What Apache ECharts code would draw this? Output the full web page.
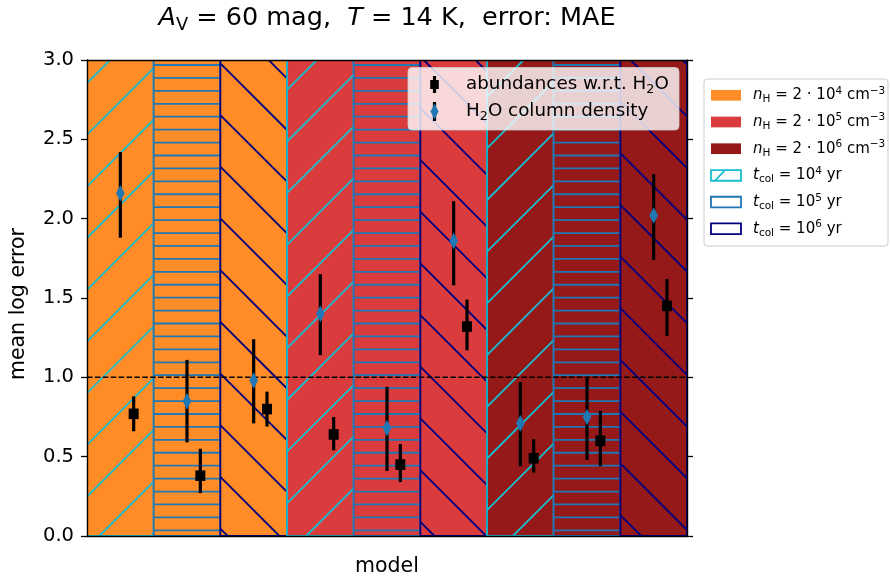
<!DOCTYPE html>
<html>
<head>
<meta charset="utf-8">
<script src="https://cdn.jsdelivr.net/npm/echarts@6/dist/echarts.min.js"></script>
<style>
  html, body { margin: 0; padding: 0; background: #ffffff; }
  #chart { width: 890px; height: 585px; }
</style>
</head>
<body>
<div id="chart"></div>
<script>
// Nine models: gas density (fill colour) x collapse time (hatch style)
const modelDensity = [0, 0, 0, 1, 1, 1, 2, 2, 2];
const modelTime    = [0, 1, 2, 0, 1, 2, 0, 1, 2];

const densityExponents = ['4', '5', '6'];
const timeExponents    = ['4', '5', '6'];

// H2O column density: mean log error with its spread
const h2oColumn   = [2.16, 0.85, 0.98, 1.40, 0.68, 1.86, 0.71, 0.75, 2.02];
const h2oColumnLo = [1.88, 0.59, 0.71, 1.14, 0.41, 1.58, 0.44, 0.48, 1.74];
const h2oColumnHi = [2.42, 1.11, 1.24, 1.65, 0.94, 2.11, 0.97, 1.00, 2.28];

// abundances relative to H2O
const abundance   = [0.77, 0.38, 0.80, 0.64, 0.45, 1.32, 0.49, 0.60, 1.45];
const abundanceLo = [0.66, 0.27, 0.69, 0.54, 0.34, 1.17, 0.40, 0.44, 1.26];
const abundanceHi = [0.88, 0.55, 0.91, 0.75, 0.58, 1.49, 0.61, 0.79, 1.62];

const yTicks = [0.0, 0.5, 1.0, 1.5, 2.0, 2.5, 3.0];
const referenceLevel = 1.0;

// styling
const densityFill = ['rgba(255,127,14,0.9)', 'rgba(214,39,40,0.9)', 'rgba(139,0,0,0.9)'];
const timeColors  = ['#17becf', '#1f77b4', '#000080'];
const hatchKinds  = ['/', '-', '\\'];
const HATCH_STEP = 51.7;   // diagonal hatch period (px)
const HLINE_STEP = HATCH_STEP / 4;
const HATCH_W = 1.8;
const FONT = 'DejaVu Sans';

const yMin = yTicks[0], yMax = yTicks[yTicks.length - 1];
const nModels = modelDensity.length;

// clip an infinite hatch family to a rectangle and return segments
function hatchSegments(kind, x0, y0, x1, y1) {
  const segs = [];
  if (kind === '-') {
    let y = 65 + Math.ceil((y0 - 65) / HLINE_STEP) * HLINE_STEP;
    for (; y <= y1; y += HLINE_STEP) segs.push([x0, y, x1, y]);
  } else if (kind === '/') {
    // lines x + y = c
    const base = 170;
    let c = base + Math.floor((x0 + y0 - base) / HATCH_STEP) * HATCH_STEP;
    for (; c <= x1 + y1 + HATCH_STEP; c += HATCH_STEP) {
      const xa = Math.max(x0, c - y1), xb = Math.min(x1, c - y0);
      if (xb > xa) segs.push([xa, c - xa, xb, c - xb]);
    }
  } else {
    // lines y - x = c
    const base = -157;
    let c = base + Math.floor((y0 - x1 - base) / HATCH_STEP) * HATCH_STEP;
    for (; c <= y1 - x0 + HATCH_STEP; c += HATCH_STEP) {
      const xa = Math.max(x0, y0 - c), xb = Math.min(x1, y1 - c);
      if (xb > xa) segs.push([xa, xa + c, xb, xb + c]);
    }
  }
  return segs;
}

function renderModelBar(params, api) {
  const i = api.value(0);
  const d = api.value(1);
  const t = api.value(2);
  const p0 = api.coord([i, yMax]);
  const p1 = api.coord([i + 1, yMin]);
  const x0 = p0[0], y0 = p0[1], x1 = p1[0], y1 = p1[1];
  const color = timeColors[t];
  const children = [{
    type: 'rect',
    shape: { x: x0, y: y0, width: x1 - x0, height: y1 - y0 },
    style: { fill: densityFill[d], stroke: null }
  }];
  hatchSegments(hatchKinds[t], x0, y0, x1, y1).forEach(s => {
    children.push({
      type: 'line',
      shape: { x1: s[0], y1: s[1], x2: s[2], y2: s[3] },
      style: { stroke: color, lineWidth: HATCH_W }
    });
  });
  children.push({
    type: 'rect',
    shape: { x: x0, y: y0, width: x1 - x0, height: y1 - y0 },
    style: { fill: null, stroke: color, lineWidth: 1.8 }
  });
  return { type: 'group', children: children };
}

// vertical error bar plus its central marker
function makeErrorRenderer(markerKind) {
  return function (params, api) {
    const x = api.value(0);
    const c = api.coord([x, api.value(1)]);
    const a = api.coord([x, api.value(2)]);
    const b = api.coord([x, api.value(3)]);
    const marker = markerKind === 'square'
      ? { type: 'rect', shape: { x: c[0] - 5, y: c[1] - 5.3, width: 10, height: 10.6 }, style: { fill: '#000' } }
      : { type: 'polygon', shape: { points: [[c[0], c[1] - 8.3], [c[0] + 4.3, c[1]], [c[0], c[1] + 8.3], [c[0] - 4.3, c[1]]] }, style: { fill: '#1f77b4' } };
    return {
      type: 'group',
      children: [
        { type: 'line', shape: { x1: a[0], y1: a[1], x2: b[0], y2: b[1] }, style: { stroke: '#000', lineWidth: 3.2 } },
        marker
      ]
    };
  };
}

const barData = modelDensity.map((d, i) => [i, d, modelTime[i]]);
const DIAMOND_X = 0.5, SQUARE_X = 0.7;
const h2oData = h2oColumn.map((v, i) => [i + DIAMOND_X, v, h2oColumnLo[i], h2oColumnHi[i]]);
const abData  = abundance.map((v, i) => [i + SQUARE_X, v, abundanceLo[i], abundanceHi[i]]);

// rich-text styles
const richBase = (size) => ({
  n:   { fontFamily: FONT, fontSize: size, color: '#000', lineHeight: size * 1.3 },
  i:   { fontFamily: FONT, fontStyle: 'italic', fontSize: size, color: '#000', lineHeight: size * 1.3 },
  sub: { fontFamily: FONT, fontSize: size * 0.7, color: '#000', lineHeight: size * 0.95, verticalAlign: 'bottom' },
  sup: { fontFamily: FONT, fontSize: size * 0.7, color: '#000', lineHeight: size * 1.0, verticalAlign: 'top' }
});

const titleText = '{i|A}{sub|V}{n| = 60 mag,  }{i|T}{n| = 14 K,  error: MAE}';

// legend entries
const LG = { x: 704, y: 79, w: 184, h: 167, patchX: 711, patchW: 30, patchH: 10.7, textX: 753, row0: 95.3, rowStep: 26.7 };
const LG_FONT = 15;
const legendGraphics = [];
legendGraphics.push({
  type: 'rect', shape: { x: LG.x, y: LG.y, width: LG.w, height: LG.h, r: 3 },
  style: { fill: 'rgba(255,255,255,0.8)', stroke: '#cccccc', lineWidth: 1 }, z: 100
});
densityExponents.forEach((e, k) => {
  const cy = LG.row0 + k * LG.rowStep;
  legendGraphics.push({
    type: 'rect', shape: { x: LG.patchX, y: cy - LG.patchH / 2, width: LG.patchW, height: LG.patchH },
    style: { fill: densityFill[k] }, z: 101
  });
  legendGraphics.push({
    type: 'text', x: LG.textX, y: cy, z: 101,
    style: {
      text: '{i|n}{sub|H}{n| = 2 \u00b7 10}{sup|' + e + '}{n| cm}{sup|\u22123}',
      rich: richBase(LG_FONT), verticalAlign: 'middle', align: 'left'
    }
  });
});
timeExponents.forEach((e, k) => {
  const cy = LG.row0 + (k + 3) * LG.rowStep;
  const px = LG.patchX, py = cy - LG.patchH / 2;
  legendGraphics.push({
    type: 'rect', shape: { x: px, y: py, width: LG.patchW, height: LG.patchH },
    style: { fill: 'rgba(255,255,255,0)', stroke: timeColors[k], lineWidth: 1.8 }, z: 101
  });
  if (hatchKinds[k] === '/') {
    legendGraphics.push({
      type: 'line', shape: { x1: px + 4, y1: py + LG.patchH, x2: px + 13.5, y2: py + 0.5 },
      style: { stroke: timeColors[k], lineWidth: HATCH_W }, z: 101
    });
  }
  legendGraphics.push({
    type: 'text', x: LG.textX, y: cy, z: 101,
    style: {
      text: '{i|t}{sub|col}{n| = 10}{sup|' + e + '}{n| yr}',
      rich: richBase(LG_FONT), verticalAlign: 'middle', align: 'left'
    }
  });
});

// in-axes legend for the two error-bar series
const IL = { x: 408, y: 67.5, w: 271, h: 62.5, markX: 434.5, textX: 466, row1: 84.5, row2: 111.5 };
const IL_FONT = 18.3;
legendGraphics.push({
  type: 'rect', shape: { x: IL.x, y: IL.y, width: IL.w, height: IL.h, r: 4 },
  style: { fill: 'rgba(255,255,255,0.8)', stroke: 'rgba(204,204,204,0.8)', lineWidth: 1 }, z: 100
});
legendGraphics.push({
  type: 'line', shape: { x1: IL.markX, y1: IL.row1 - 8.5, x2: IL.markX, y2: IL.row1 + 8.5 },
  style: { stroke: '#000', lineWidth: 3.2 }, z: 101
});
legendGraphics.push({
  type: 'rect', shape: { x: IL.markX - 4.3, y: IL.row1 - 4.5, width: 8.6, height: 9 },
  style: { fill: '#000' }, z: 101
});
legendGraphics.push({
  type: 'line', shape: { x1: IL.markX, y1: IL.row2 - 9.5, x2: IL.markX, y2: IL.row2 + 9.5 },
  style: { stroke: '#000', lineWidth: 3.2 }, z: 101
});
legendGraphics.push({
  type: 'polygon',
  shape: { points: [[IL.markX, IL.row2 - 8], [IL.markX + 4, IL.row2], [IL.markX, IL.row2 + 8], [IL.markX - 4, IL.row2]] },
  style: { fill: '#1f77b4' }, z: 102
});
legendGraphics.push({
  type: 'text', x: IL.textX, y: IL.row1, z: 101,
  style: { text: '{n|abundances w.r.t. H}{sub|2}{n|O}', rich: richBase(IL_FONT), verticalAlign: 'middle', align: 'left' }
});
legendGraphics.push({
  type: 'text', x: IL.textX, y: IL.row2, z: 101,
  style: { text: '{n|H}{sub|2}{n|O column density}', rich: richBase(IL_FONT), verticalAlign: 'middle', align: 'left' }
});
// title, centred over the axes
legendGraphics.push({
  type: 'text', x: 387, y: 18, z: 101,
  style: { text: titleText, rich: richBase(25.5), verticalAlign: 'middle', align: 'center' }
});
// y-axis label
legendGraphics.push({
  type: 'text', x: 19, y: 304, rotation: Math.PI / 2, z: 101,
  style: { text: 'mean log error', fontFamily: FONT, fontSize: 20.5, fill: '#000', align: 'center', verticalAlign: 'middle' }
});

const axisLineStyle = { color: '#000', width: 1.4 };

const option = {
  animation: false,
  backgroundColor: '#ffffff',
  grid: { left: 87, right: 203, top: 60, bottom: 49, containLabel: false },
  xAxis: [
    {
      type: 'value', min: 0, max: nModels, position: 'bottom', z: 10,
      axisLine: { show: true, onZero: false, lineStyle: axisLineStyle },
      axisTick: { show: false }, axisLabel: { show: false }, splitLine: { show: false },
      name: 'model', nameLocation: 'middle', nameGap: 20,
      nameTextStyle: { fontFamily: FONT, fontSize: 20.5, color: '#000' }
    },
    {
      type: 'value', min: 0, max: nModels, position: 'top', z: 10,
      axisLine: { show: true, onZero: false, lineStyle: axisLineStyle },
      axisTick: { show: false }, axisLabel: { show: false }, splitLine: { show: false }
    }
  ],
  yAxis: [
    {
      type: 'value', min: yMin, max: yMax, interval: 0.5, position: 'left', z: 10,
      axisLine: { show: true, onZero: false, lineStyle: axisLineStyle },
      axisTick: { show: true, length: 6, lineStyle: { color: '#000', width: 1.3 } },
      axisLabel: {
        fontFamily: FONT, fontSize: 19.5, color: '#000', margin: 13,
        formatter: v => (yTicks.indexOf(v) >= 0 ? v.toFixed(1) : '')
      },
      splitLine: { show: false }
    },
    {
      type: 'value', min: yMin, max: yMax, interval: 0.5, position: 'right', z: 10,
      axisLine: { show: true, onZero: false, lineStyle: axisLineStyle },
      axisTick: { show: true, length: 6, lineStyle: { color: '#000', width: 1.3 } },
      axisLabel: { show: false }, splitLine: { show: false }
    }
  ],
  series: [
    {
      type: 'custom', name: 'models', renderItem: renderModelBar, data: barData,
      clip: true, z: 1, silent: true
    },
    {
      type: 'line', name: 'reference', data: [[0, referenceLevel], [nModels, referenceLevel]],
      symbol: 'none', z: 3, silent: true,
      lineStyle: { color: '#000', width: 1.5, type: [5.5, 2.4] }
    },
    {
      type: 'custom', name: 'abundances w.r.t. H2O', renderItem: makeErrorRenderer('square'), data: abData, z: 4
    },
    {
      type: 'custom', name: 'H2O column density', renderItem: makeErrorRenderer('diamond'), data: h2oData, z: 5
    }
  ],
  graphic: legendGraphics
};

const chart = echarts.init(document.getElementById('chart'), null, { renderer: 'canvas' });
chart.setOption(option);
</script>
</body>
</html>
